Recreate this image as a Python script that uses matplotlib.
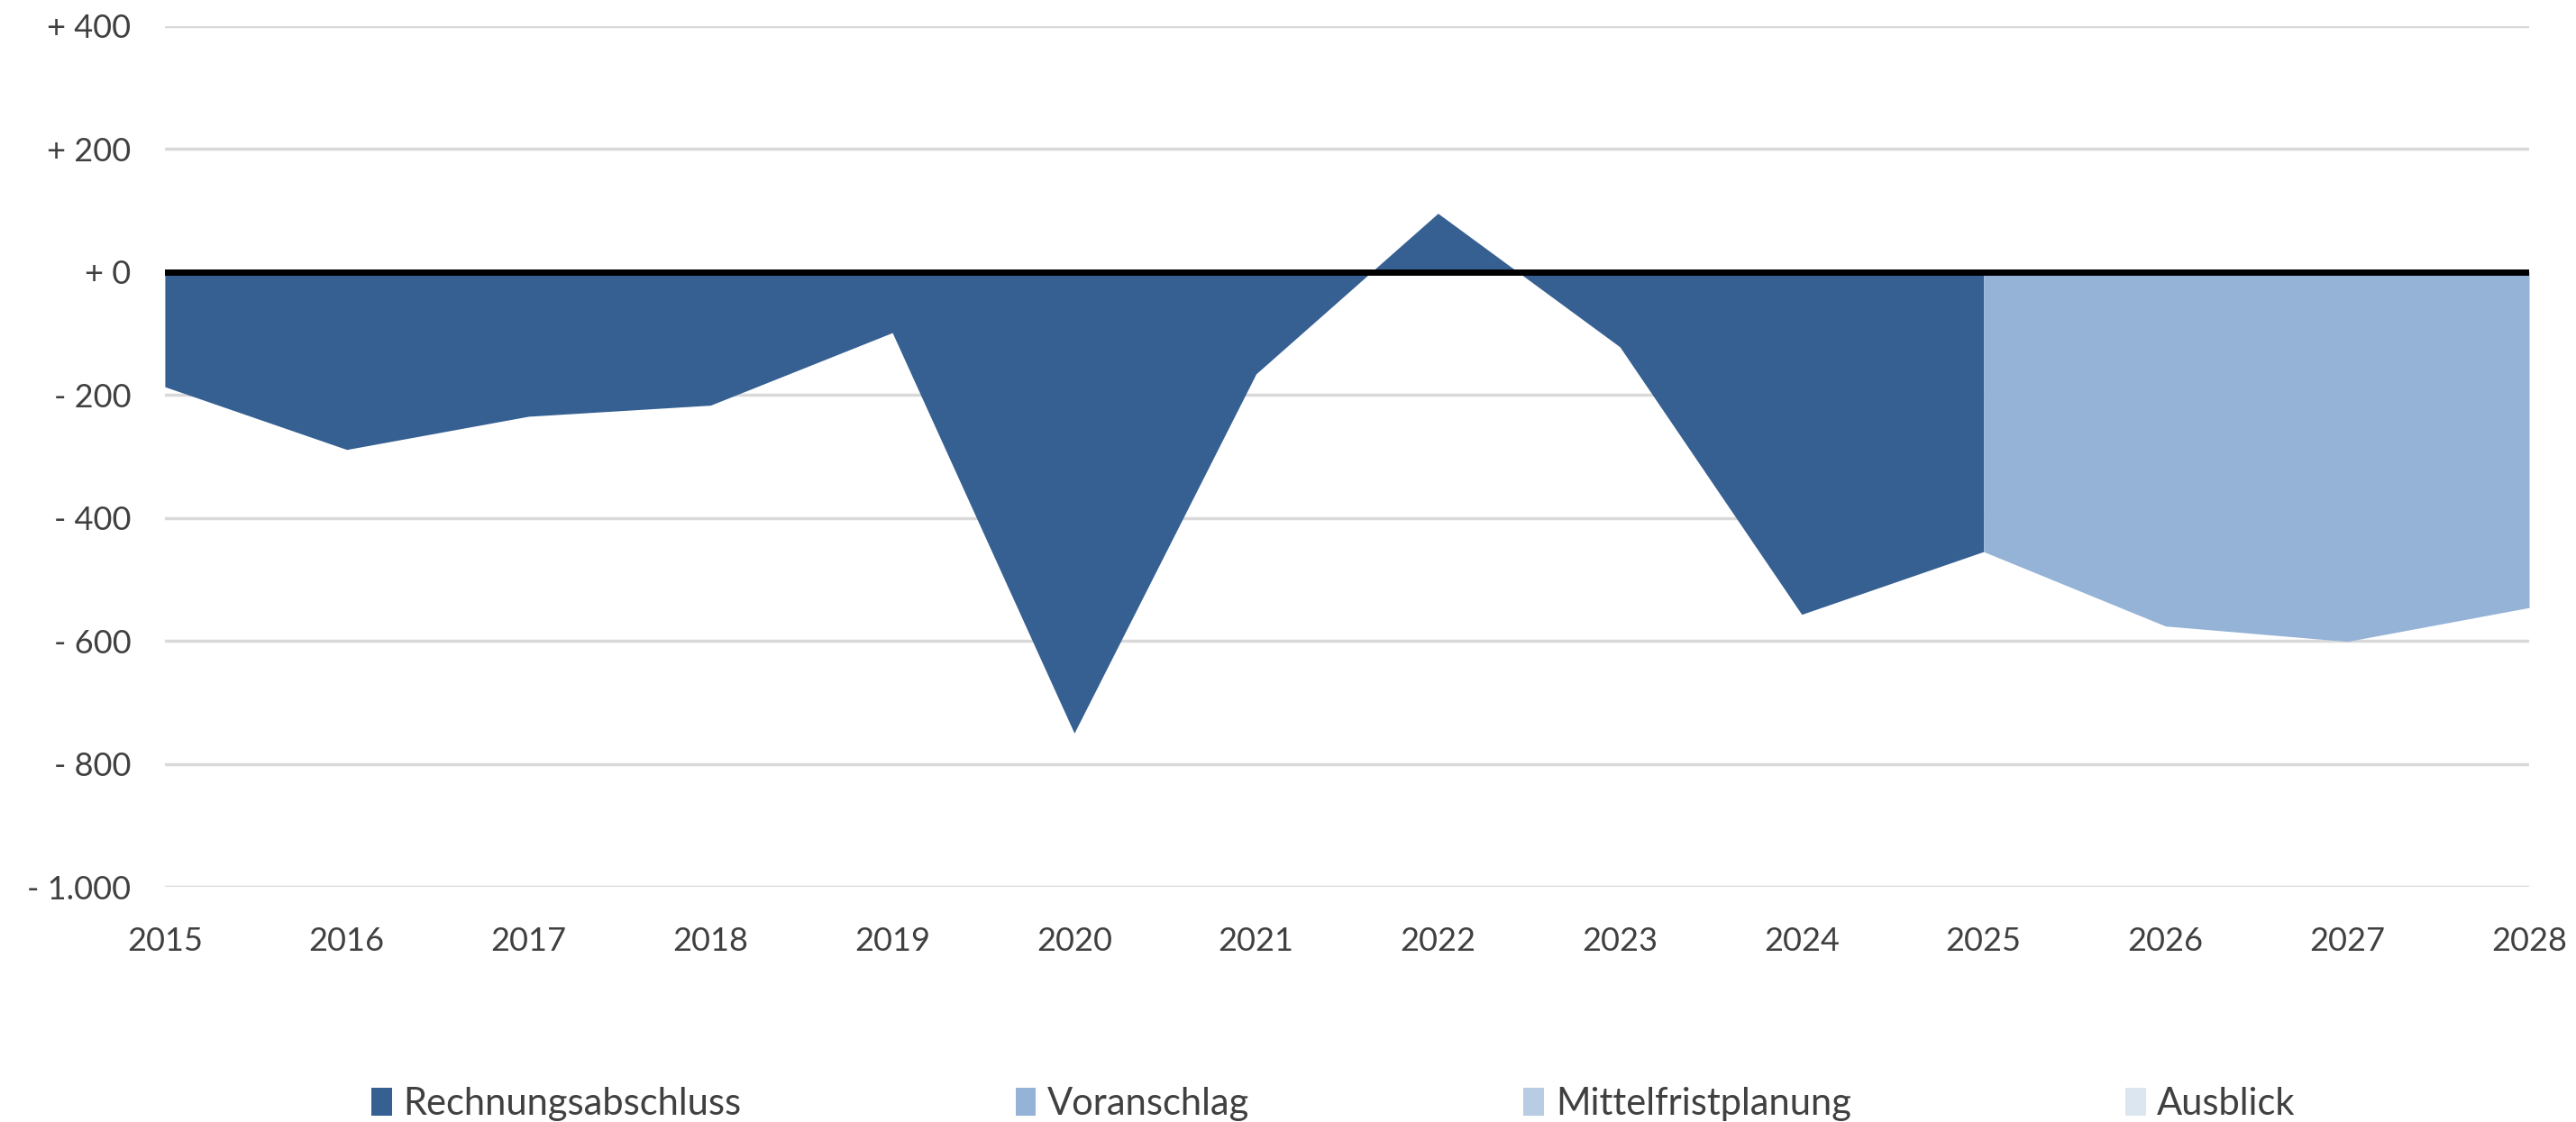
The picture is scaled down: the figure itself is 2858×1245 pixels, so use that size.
import matplotlib.pyplot as plt
from matplotlib.patches import Patch
import matplotlib.ticker as ticker

plt.rcParams['font.family'] = ['Lato', 'DejaVu Sans']

years = [2015, 2016, 2017, 2018, 2019, 2020, 2021, 2022, 2023, 2024, 2025, 2026, 2027, 2028]
saldo = [-187, -289, -235, -217, -99, -750, -166, 95, -122, -557, -455, -576, -601, -546]

n_ist = 11  # 2015..2025 Rechnungsabschluss, ab 2025 Planung

labels = ['Rechnungsabschluss', 'Voranschlag', 'Mittelfristplanung', 'Ausblick']
colors = ['#366092', '#95B3D7', '#B8CCE4', '#DCE6F1']

text_col = '#404040'

fig = plt.figure(figsize=(28.58, 12.45), dpi=100)
ax = fig.add_axes([0.064, 0.2096, 0.9178, 0.7675])

ax.fill_between(years[:n_ist], saldo[:n_ist], 0, color=colors[0], linewidth=0, zorder=2)
ax.fill_between(years[n_ist - 1:], saldo[n_ist - 1:], 0, color=colors[1], linewidth=0, zorder=2)
ax.axhline(0, color='black', linewidth=5, zorder=3)

ax.set_xlim(2015, 2028)
ax.set_ylim(-1000, 400)
ax.set_xticks(years)
ax.yaxis.set_major_locator(ticker.MultipleLocator(200))


def fmt(v, pos):
    s = f"{abs(int(round(v))):,}".replace(',', '.')
    return ('- ' if v < 0 else '+ ') + s


ax.yaxis.set_major_formatter(ticker.FuncFormatter(fmt))
ax.grid(axis='y', color='#D9D9D9', linewidth=2.5, zorder=1)
ax.set_axisbelow(True)
for sp in ax.spines.values():
    sp.set_visible(False)
ax.tick_params(length=0, labelsize=26, colors=text_col)
ax.tick_params(axis='y', pad=27)
ax.tick_params(axis='x', pad=32)

handles = [Patch(facecolor=c, edgecolor='none') for c in colors]
fig.legend(handles, labels, loc='center', bbox_to_anchor=(0.5176, 0.016), ncol=4,
           frameon=False, fontsize=30, labelcolor=text_col, handlelength=0.55,
           handleheight=0.75, handletextpad=0.3, columnspacing=7.3)

fig.savefig('out.png', dpi=100)
